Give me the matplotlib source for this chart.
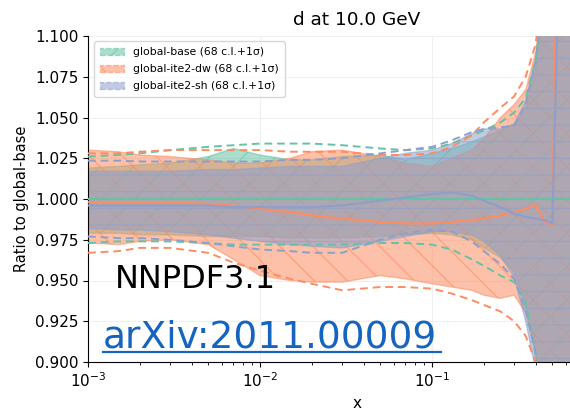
import matplotlib
matplotlib.use("Agg")
import matplotlib.pyplot as plt
import matplotlib.patches as mpatches
import matplotlib.ticker as mticker
from matplotlib.lines import Line2D

# ---------------- data ----------------
x = [0.001, 0.0015, 0.002, 0.003, 0.005, 0.007, 0.01, 0.015, 0.02, 0.03, 0.05, 0.07,
     0.1, 0.13, 0.17, 0.2, 0.25, 0.3, 0.35, 0.4, 0.45, 0.5, 0.53, 0.56, 0.6, 0.7,
     0.85, 1.0, 1.34]

# global-base
base_central = [1.0] * len(x)
base_up68 = [1.019, 1.020, 1.021, 1.022, 1.026, 1.031, 1.027, 1.024, 1.024, 1.026, 1.027, 1.024,
             1.028, 1.031, 1.035, 1.038, 1.042, 1.046, 1.055, 1.08, 1.12, 1.18, 1.22, 1.27, 1.33,
             1.45, 1.6, 1.8, 2.0]
base_dn68 = [0.979, 0.979, 0.978, 0.978, 0.977, 0.977, 0.977, 0.976, 0.976, 0.976, 0.977, 0.978,
             0.979, 0.978, 0.975, 0.970, 0.964, 0.955, 0.935, 0.905, 0.87, 0.84, 0.81, 0.78, 0.74,
             0.66, 0.55, 0.45, 0.3]
base_up1s = [1.026, 1.027, 1.028, 1.030, 1.032, 1.033, 1.034, 1.034, 1.034, 1.033, 1.031, 1.030,
             1.031, 1.034, 1.039, 1.042, 1.047, 1.053, 1.062, 1.085, 1.13, 1.19, 1.23, 1.28, 1.34,
             1.46, 1.62, 1.82, 2.0]
base_dn1s = [0.973, 0.974, 0.974, 0.974, 0.973, 0.972, 0.972, 0.972, 0.972, 0.972, 0.973, 0.973,
             0.972, 0.969, 0.963, 0.959, 0.953, 0.949, 0.937, 0.905, 0.86, 0.82, 0.80, 0.77, 0.73,
             0.65, 0.54, 0.44, 0.3]

# global-ite2-dw
dw_central = [0.998, 0.998, 0.998, 0.998, 0.997, 0.996, 0.994, 0.992, 0.990, 0.988, 0.986, 0.985,
              0.985, 0.986, 0.987, 0.988, 0.990, 0.992, 0.994, 0.996, 0.986, 0.984, 1.15, 1.30, 1.45,
              1.6, 1.8, 2.0, 2.2]
dw_up68 = [1.030, 1.029, 1.027, 1.026, 1.024, 1.022, 1.022, 1.025, 1.029, 1.030, 1.026, 1.022,
           1.020, 1.025, 1.030, 1.037, 1.050, 1.058, 1.067, 1.090, 1.13, 1.19, 1.23, 1.28, 1.35,
           1.47, 1.63, 1.83, 2.0]
dw_dn68 = [0.973, 0.972, 0.974, 0.975, 0.972, 0.963, 0.953, 0.950, 0.949, 0.949, 0.953, 0.951,
           0.948, 0.946, 0.944, 0.941, 0.939, 0.941, 0.930, 0.905, 0.87, 0.84, 0.81, 0.78, 0.74,
           0.66, 0.55, 0.45, 0.3]
dw_up1s = [1.028, 1.028, 1.029, 1.030, 1.030, 1.030, 1.030, 1.029, 1.029, 1.029, 1.027, 1.027,
           1.028, 1.032, 1.039, 1.047, 1.056, 1.063, 1.075, 1.095, 1.14, 1.20, 1.24, 1.29, 1.36,
           1.48, 1.64, 1.84, 2.0]
dw_dn1s = [0.967, 0.968, 0.970, 0.970, 0.967, 0.961, 0.956, 0.951, 0.948, 0.944, 0.946, 0.946,
           0.945, 0.942, 0.938, 0.935, 0.931, 0.925, 0.916, 0.900, 0.86, 0.82, 0.80, 0.77, 0.73,
           0.65, 0.54, 0.44, 0.3]

# global-ite2-sh
sh_central = [0.996, 0.996, 0.996, 0.996, 0.996, 0.995, 0.995, 0.995, 0.995, 0.996, 0.999, 1.001,
              1.003, 1.004, 1.002, 0.999, 0.995, 0.991, 0.989, 0.988, 0.987, 0.985, 1.09, 1.25, 1.4,
              1.6, 1.8, 2.0, 2.2]
sh_up68 = [1.017, 1.017, 1.017, 1.017, 1.018, 1.018, 1.019, 1.020, 1.020, 1.020, 1.025, 1.028,
           1.030, 1.034, 1.040, 1.043, 1.043, 1.046, 1.060, 1.085, 1.13, 1.19, 1.23, 1.28, 1.35,
           1.47, 1.63, 1.83, 2.0]
sh_dn68 = [0.982, 0.981, 0.981, 0.980, 0.978, 0.976, 0.974, 0.972, 0.971, 0.970, 0.974, 0.977,
           0.980, 0.980, 0.978, 0.974, 0.965, 0.952, 0.925, 0.895, 0.86, 0.83, 0.80, 0.77, 0.73,
           0.65, 0.54, 0.44, 0.3]
sh_up1s = [1.0235, 1.0235, 1.023, 1.023, 1.023, 1.023, 1.023, 1.024, 1.024, 1.025, 1.028, 1.030,
           1.032, 1.036, 1.041, 1.043, 1.044, 1.045, 1.058, 1.085, 1.13, 1.19, 1.23, 1.28, 1.35,
           1.47, 1.63, 1.83, 2.0]
sh_dn1s = [0.977, 0.976, 0.976, 0.975, 0.973, 0.971, 0.969, 0.968, 0.967, 0.967, 0.975, 0.979,
           0.981, 0.980, 0.974, 0.968, 0.960, 0.951, 0.932, 0.905, 0.86, 0.82, 0.80, 0.77, 0.73,
           0.65, 0.54, 0.44, 0.3]

labels = ["global-base (68 c.l.+1σ)", "global-ite2-dw (68 c.l.+1σ)", "global-ite2-sh (68 c.l.+1σ)"]
colors = ["#66c2a5", "#fc8d62", "#8da0cb"]
hatches = ["/", "\\", "-"]
yticks = [0.900, 0.925, 0.950, 0.975, 1.000, 1.025, 1.050, 1.075, 1.100]
xticks_major = [1e-3, 1e-2, 1e-1]

series = [
    (base_central, base_dn68, base_up68, base_dn1s, base_up1s),
    (dw_central, dw_dn68, dw_up68, dw_dn1s, dw_up1s),
    (sh_central, sh_dn68, sh_up68, sh_dn1s, sh_up1s),
]

# ---------------- plot ----------------
W, H = 570, 417
fig = plt.figure(figsize=(W / 100, H / 100), dpi=100)
ax = fig.add_axes([88 / W, 1 - 362 / H, (626 - 88) / W, (362 - 36) / H])

for (c, d68, u68, d1, u1), col, hat in zip(series, colors, hatches):
    ax.fill_between(x, d68, u68, facecolor=col, edgecolor=col, alpha=0.55,
                    hatch=hat, linewidth=1.0, zorder=1)

for (c, d68, u68, d1, u1), col in zip(series, colors):
    ax.plot(x, c, color=col, lw=1.6, zorder=3)
    ax.plot(x, d1, color=col, lw=1.4, ls=(0, (4, 2.5)), zorder=3)
    ax.plot(x, u1, color=col, lw=1.4, ls=(0, (4, 2.5)), zorder=3)

ax.set_xscale("log")
ax.set_xlim(1e-3, 1.34)
ax.xaxis.set_major_locator(mticker.FixedLocator(xticks_major))
ax.xaxis.set_minor_locator(mticker.LogLocator(base=10, subs=tuple(range(2, 10)), numticks=20))
ax.xaxis.set_minor_formatter(mticker.NullFormatter())
ax.set_ylim(0.9, 1.1)
ax.set_yticks(yticks)
ax.set_yticklabels([f"{v:.3f}" for v in yticks])
ax.tick_params(labelsize=11)
ax.grid(True, which="major", color="#f0f0f0", lw=0.8, zorder=0)
ax.set_axisbelow(True)
for s in ["top", "right"]:
    ax.spines[s].set_visible(False)

ax.set_xlabel("x", fontsize=11)
ax.set_ylabel("Ratio to global-base", fontsize=10.5)
ax.set_title("d at 10.0 GeV", fontsize=13.3, x=(357 - 88) / (626 - 88), pad=8)

handles = [mpatches.Patch(facecolor=col, edgecolor=col, alpha=0.55, hatch=hat, linestyle="--",
                          linewidth=1.0)
           for col, hat in zip(colors, hatches)]
leg = ax.legend(handles, labels, loc="upper left", fontsize=7.8, frameon=True,
                bbox_to_anchor=(0.002, 1.0), handlelength=2.2, borderpad=0.55, labelspacing=0.65)
leg.set_zorder(5)

fig.text(115 / W, 1 - 288 / H, "NNPDF3.1", fontsize=23, color="black", va="baseline", ha="left",
         zorder=10)
t2 = fig.text(103 / W, 1 - 348 / H, "arXiv:2011.00009", fontsize=27, color="#1565c0",
              va="baseline", ha="left", zorder=10)
fig.canvas.draw()
bb = t2.get_window_extent()
uy = (H - 352) / H
fig.add_artist(Line2D([bb.x0 / W, (bb.x1 + 4) / W], [uy, uy], transform=fig.transFigure,
                      color="#1565c0", lw=1.6, zorder=10))

fig.savefig("out.png", dpi=100)
